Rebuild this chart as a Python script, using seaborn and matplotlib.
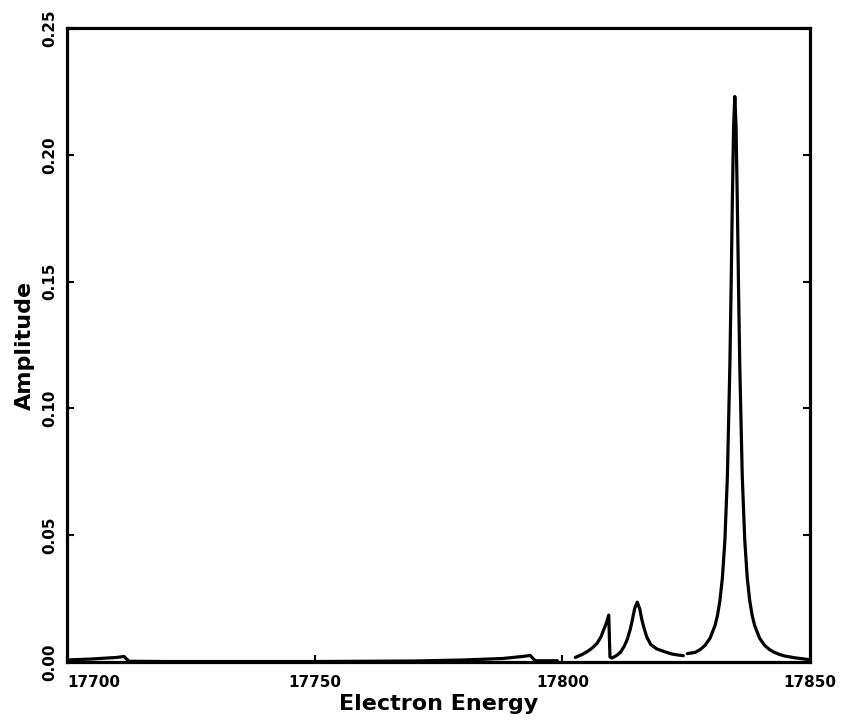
import numpy as np
import pandas as pd
import matplotlib
matplotlib.use("Agg")
import matplotlib.pyplot as plt
import seaborn as sns

# Segment A: low baseline trace
seg_a_x = [17700.0, 17705.0, 17710.0, 17711.5, 17712.5, 17720.0, 17750.0, 17770.0,
           17780.0, 17788.0, 17792.0, 17793.5, 17794.5, 17799.0]
seg_a_y = [0.0008, 0.0012, 0.0018, 0.0022, 0.0003, 0.0002, 0.0002, 0.0004,
           0.0008, 0.0014, 0.0022, 0.0026, 0.0005, 0.0005]

# Segment B: the two small peaks
seg_b_x = [17802.6, 17804.0, 17805.0, 17806.0, 17807.0, 17807.8, 17808.3, 17808.7,
           17809.0, 17809.35, 17809.6, 17810.0, 17810.8, 17811.7, 17812.5, 17813.1,
           17813.7, 17814.1, 17814.6, 17815.1, 17815.6, 17816.0, 17816.4, 17817.0,
           17817.8, 17819.0, 17820.6, 17822.0, 17823.2, 17824.4]
seg_b_y = [0.0018, 0.0030, 0.0041, 0.0055, 0.0074, 0.0100, 0.0126, 0.0145,
           0.0162, 0.0185, 0.0020, 0.0016, 0.0024, 0.0038, 0.0063, 0.0090,
           0.0130, 0.0165, 0.0212, 0.0236, 0.0210, 0.0170, 0.0139, 0.0100,
           0.0070, 0.0052, 0.0041, 0.0032, 0.0028, 0.0025]

# Segment C: main peak
seg_c_x = [17825.2, 17826.8, 17827.8, 17828.8, 17829.8, 17830.8, 17831.3, 17831.8,
           17832.3, 17832.8, 17833.3, 17833.8, 17834.05, 17834.3, 17834.55, 17834.8,
           17835.05, 17835.3, 17835.55, 17835.8, 17836.3, 17836.8, 17837.3, 17837.8,
           17838.3, 17838.8, 17839.8, 17840.8, 17841.8, 17842.8, 17843.8, 17844.8,
           17846.8, 17850.0]
seg_c_y = [0.0033, 0.0038, 0.0049, 0.0066, 0.0094, 0.0144, 0.0184, 0.0243,
           0.0334, 0.0482, 0.0733, 0.1169, 0.1477, 0.1818, 0.2110, 0.2230,
           0.2110, 0.1818, 0.1477, 0.1169, 0.0733, 0.0482, 0.0334, 0.0243,
           0.0184, 0.0144, 0.0094, 0.0066, 0.0049, 0.0038, 0.0030, 0.0024,
           0.0017, 0.0009]

x_ticks = [17700, 17750, 17800, 17850]
x_tick_labels = ["17700", "17750", "17800", "17850"]
y_ticks = [0.00, 0.05, 0.10, 0.15, 0.20, 0.25]
y_tick_labels = ["0.00", "0.05", "0.10", "0.15", "0.20", "0.25"]

df = pd.concat([
    pd.DataFrame({"energy": seg_a_x, "amp": seg_a_y, "seg": "A"}),
    pd.DataFrame({"energy": seg_b_x, "amp": seg_b_y, "seg": "B"}),
    pd.DataFrame({"energy": seg_c_x, "amp": seg_c_y, "seg": "C"}),
], ignore_index=True)

sns.set_style("ticks")
plt.rcParams["font.family"] = ["DejaVu Sans"]
plt.rcParams["text.color"] = "black"
plt.rcParams["axes.labelcolor"] = "black"
plt.rcParams["xtick.color"] = "black"
plt.rcParams["ytick.color"] = "black"

fig = plt.figure(figsize=(8.43, 7.24), dpi=100)
ax = fig.add_axes([0.0795, 0.0856, 0.8815, 0.8757])

sns.lineplot(data=df, x="energy", y="amp", units="seg", estimator=None,
             sort=False, color="black", linewidth=2.3, ax=ax)

ax.set_xlim(17700, 17850)
ax.set_ylim(0, 0.25)
ax.set_xticks(x_ticks)
ax.set_xticklabels(x_tick_labels, fontsize=11, fontweight="bold", color="black")
ax.set_yticks(y_ticks)
ax.set_yticklabels(y_tick_labels, fontsize=11, fontweight="bold", rotation=90,
                   va="center", color="black")
ax.get_xticklabels()[0].set_ha("left")

ax.tick_params(axis="both", direction="in", length=5, width=1.5,
               color="black", labelcolor="black")
ax.tick_params(axis="y", right=True, labelright=False, pad=7)
ax.tick_params(axis="x", top=False, pad=9)

for s in ax.spines.values():
    s.set_visible(True)
    s.set_linewidth(2.3)
    s.set_color("black")

ax.set_xlabel("Electron Energy", fontsize=16, fontweight="bold", labelpad=3,
              color="black")
ax.set_ylabel("Amplitude", fontsize=16, fontweight="bold", labelpad=5,
              color="black")

fig.savefig("out.png", dpi=100)
